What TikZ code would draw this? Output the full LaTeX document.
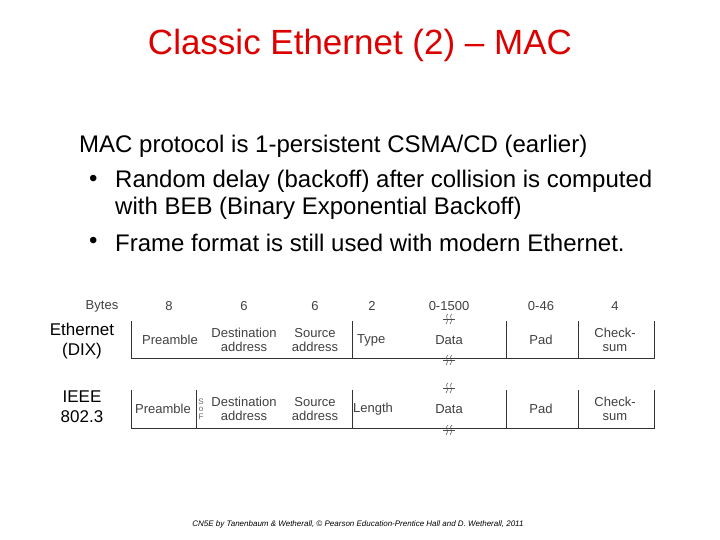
\documentclass[tikz,border=0pt]{standalone}
\usepackage{fontspec}
\setmainfont{Liberation Sans}
\begin{document}
\begin{tikzpicture}[x=1pt,y=-1pt,
  body/.style={anchor=west,font=\fontsize{24}{28}\selectfont,inner sep=0},
  lbl/.style={font=\fontsize{13}{14}\selectfont,text=black!75,inner sep=0,align=center},
  rowlbl/.style={font=\fontsize{17}{20}\selectfont,align=center,inner sep=0},
  fl/.style={draw=black!80,line width=0.7pt}]
\useasboundingbox (0,0) rectangle (720,540);
\node[font=\fontsize{35}{38}\selectfont,text={rgb,255:red,220;green,0;blue,0}] (title) at (360,45) {Classic Ethernet (2) -- MAC};
\node[body] (l1) at (79,146) {MAC protocol is 1-persistent CSMA/CD (earlier)};
\node[body] (b1) at (89,181) {•};
\node[body] (l2) at (115,181) {Random delay (backoff) after collision is computed};
\node[body] (l3) at (115,208) {with BEB (Binary Exponential Backoff)};
\node[body] (b2) at (89,243) {•};
\node[body] (l4) at (115,243) {Frame format is still used with modern Ethernet.};
% bytes row
\foreach \x/\t/\n in {102/Bytes/by,169/8/c1,244/6/c2,315/6/c3,372/2/c4,449/0-1500/c5,541/0-46/c6,615/4/c7}
  \node[lbl] (\n) at (\x,306) {\t};
\node[rowlbl] (eth) at (82,341) {Ethernet\\(DIX)};
\node[rowlbl] (ieee) at (82,407) {IEEE\\802.3};
% row 1
\draw[fl] (131,321) -- (131,358) -- (654,358) -- (654,321);
\foreach \x in {352,506,578} \draw[fl] (\x,321) -- (\x,358);
\foreach \x/\t/\n in {170/Preamble/p1,244/Destination\\address/d1,315/Source\\address/s1,449/Data/da1,541/Pad/pa1,615/Check-\\sum/cs1}
  \node[lbl] (\n) at (\x,340) {\t};
\node[lbl,anchor=west] (t1) at (357,340) {Type};
% row 2
\draw[fl] (131,390) -- (131,428) -- (654,428) -- (654,390);
\foreach \x in {196,352,506,578} \draw[fl] (\x,390) -- (\x,428);
\foreach \x/\t/\n in {163/Preamble/p2,244/Destination\\address/d2,315/Source\\address/s2,449/Data/da2,541/Pad/pa2,615/Check-\\sum/cs2}
  \node[lbl] (\n) at (\x,409) {\t};
\node[lbl,anchor=west] (t2) at (353,409) {Length};
\node[font=\fontsize{8}{7.5}\selectfont,text=black!60,align=center,inner sep=0] (sof) at (201,409) {S\\o\\F};
% squiggles
\foreach \y in {319,360,388,430}{
  \draw[black!70,line width=0.5pt] (443,\y) -- (455,\y);
  \draw[black!70,line width=0.5pt] (448,\y-5) .. controls (444,\y-3) and (450,\y+1) .. (446,\y+5);
  \draw[black!70,line width=0.5pt] (452,\y-5) .. controls (448,\y-3) and (454,\y+1) .. (450,\y+5);
}
\node[font=\itshape\fontsize{8}{9}\selectfont,inner sep=0] (cred) at (358,524) {CN5E by Tanenbaum \& Wetherall, © Pearson Education-Prentice Hall and D. Wetherall, 2011};
\end{tikzpicture}
\end{document}
